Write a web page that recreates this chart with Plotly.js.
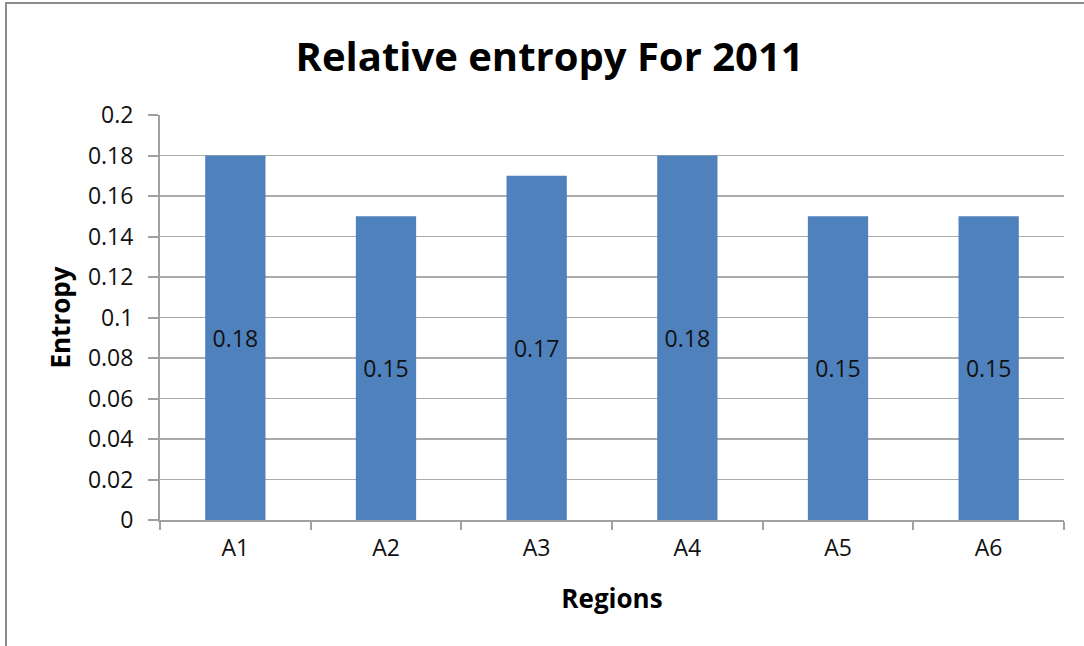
<!DOCTYPE html>
<html>
<head>
<meta charset="utf-8">
<script src="https://cdn.plot.ly/plotly-3.0.1.min.js"></script>
<style>
  html, body { margin: 0; padding: 0; width: 1084px; height: 646px; overflow: hidden; background: #fff; }
  #frame { position: absolute; left: 5px; top: 2px; width: 1200px; height: 800px; border: 2px solid #8c8c8c; box-sizing: border-box; }
  #chart { position: absolute; left: 0; top: 0; width: 1084px; height: 646px; }
</style>
</head>
<body>
<div id="frame"></div>
<div id="chart"></div>
<script>
// Relative entropy per region, 2011
const regions = ["A1", "A2", "A3", "A4", "A5", "A6"];
const entropy = [0.18, 0.15, 0.17, 0.18, 0.15, 0.15];
const yTicks = [0, 0.02, 0.04, 0.06, 0.08, 0.1, 0.12, 0.14, 0.16, 0.18, 0.2];
const yTickText = ["0", "0.02", "0.04", "0.06", "0.08", "0.1", "0.12", "0.14", "0.16", "0.18", "0.2"];

const FONT = "Open Sans, Noto Sans, sans-serif";

const trace = {
  type: "bar",
  x: regions,
  y: entropy,
  marker: { color: "#4f81bd" },
  text: entropy.map(v => v.toFixed(2)),
  textposition: "inside",
  insidetextanchor: "middle",
  textangle: 0,
  textfont: { family: FONT, size: 23, color: "#111" },
  hoverinfo: "x+y"
};

const layout = {
  width: 1084,
  height: 646,
  paper_bgcolor: "rgba(0,0,0,0)",
  plot_bgcolor: "rgba(0,0,0,0)",
  margin: { l: 160, r: 20, t: 115, b: 126 },
  bargap: 0.6,
  showlegend: false,
  font: { family: FONT, color: "#111" },
  title: {
    text: "<b>Relative entropy For 2011</b>",
    font: { family: FONT, size: 40, color: "#000" },
    x: 0.507, xanchor: "center",
    y: 0.912, yanchor: "middle"
  },
  xaxis: {
    type: "category",
    showline: true, linecolor: "#a0a0a0", linewidth: 2,
    ticks: "outside", tickson: "boundaries", ticklen: 8, tickcolor: "#a0a0a0", tickwidth: 2,
    ticklabelstandoff: 6,
    tickfont: { family: FONT, size: 23, color: "#111" },
    showgrid: false,
    title: { text: "<b>Regions</b>", font: { family: FONT, size: 26, color: "#000" }, standoff: 28 }
  },
  yaxis: {
    range: [0, 0.2],
    tickvals: yTicks,
    ticktext: yTickText,
    showline: true, linecolor: "#a0a0a0", linewidth: 2,
    ticks: "outside", ticklen: 10, tickcolor: "#a0a0a0", tickwidth: 2,
    ticklabelstandoff: 10,
    showgrid: true, gridcolor: "#ababab", gridwidth: 1.5,
    zeroline: false,
    tickfont: { family: FONT, size: 23, color: "#111" },
    title: { text: "<b>Entropy</b>", font: { family: FONT, size: 26, color: "#000" }, standoff: 10 }
  }
};

Plotly.newPlot("chart", [trace], layout, { displayModeBar: false, staticPlot: true });
</script>
</body>
</html>
